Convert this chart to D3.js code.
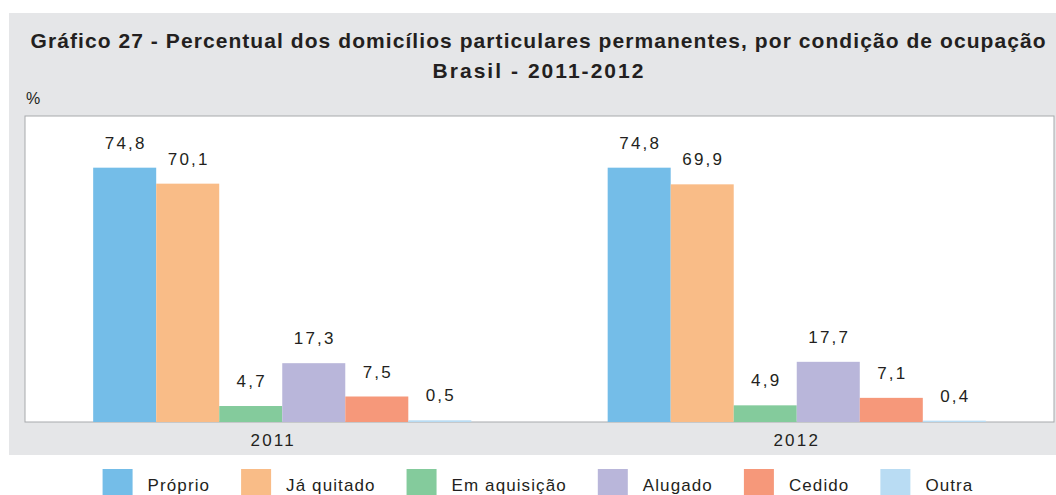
<!DOCTYPE html>
<html>
<head>
<meta charset="utf-8">
<script src="https://cdn.jsdelivr.net/npm/d3@7"></script>
<style>
  body { margin: 0; background: #fff; }
  text { font-family: "Liberation Sans", Arial, Helvetica, sans-serif; fill: #231f20; }
</style>
</head>
<body>
<div id="chart"></div>
<script>
// data
const years = ["2011", "2012"];
const conditions = ["Próprio", "Já quitado", "Em aquisição", "Alugado", "Cedido", "Outra"];
const values2011 = [74.8, 70.1, 4.7, 17.3, 7.5, 0.5];
const values2012 = [74.8, 69.9, 4.9, 17.7, 7.1, 0.4];
const colors = ["#74bde8", "#f9bc87", "#84cb9c", "#b9b6da", "#f6987a", "#b9dcf3"];

const seriesByYear = [values2011, values2012];

const width = 1056, height = 495;
const plot = { left: 25, right: 1054, top: 116, bottom: 422 };

const svg = d3.select("#chart")
  .append("svg")
  .attr("width", width)
  .attr("height", height);

// gray panel
svg.append("rect")
  .attr("x", 9).attr("y", 13)
  .attr("width", width - 9).attr("height", 442)
  .attr("fill", "#e5e6e8");

// title
svg.append("text")
  .attr("x", 538).attr("y", 48)
  .attr("text-anchor", "middle")
  .attr("textLength", 1015)
  .attr("lengthAdjust", "spacing")
  .style("font-size", "21px").style("font-weight", "bold")
  .text("Gráfico 27 - Percentual dos domicílios particulares permanentes, por condição de ocupação");
svg.append("text")
  .attr("x", 538).attr("y", 78)
  .attr("text-anchor", "middle")
  .attr("textLength", 211)
  .attr("lengthAdjust", "spacing")
  .style("font-size", "21px").style("font-weight", "bold")
  .text("Brasil - 2011-2012");

svg.append("text")
  .attr("x", 26).attr("y", 104)
  .style("font-size", "16px")
  .text("%");

// plot area
svg.append("rect")
  .attr("x", plot.left).attr("y", plot.top)
  .attr("width", plot.right - plot.left).attr("height", plot.bottom - plot.top)
  .attr("fill", "#fff")
  .attr("stroke", "#a7a9ac").attr("stroke-width", 1);

const x0 = d3.scaleBand()
  .domain(years)
  .range([plot.left, plot.right])
  .paddingInner(0.265)
  .paddingOuter(0.1325);

const x1 = d3.scaleBand()
  .domain(conditions)
  .range([0, x0.bandwidth()]);

const y = d3.scaleLinear()
  .domain([0, 90])
  .range([plot.bottom, plot.top]);

const color = d3.scaleOrdinal().domain(conditions).range(colors);

const groups = svg.selectAll("g.year")
  .data(years)
  .enter()
  .append("g")
  .attr("class", "year")
  .attr("transform", d => `translate(${x0(d)},0)`);

groups.selectAll("rect")
  .data((d, i) => conditions.map((c, j) => ({ c: c, v: seriesByYear[i][j] })))
  .enter()
  .append("rect")
  .attr("x", d => x1(d.c))
  .attr("y", d => y(d.v))
  .attr("width", x1.bandwidth())
  .attr("height", d => y(0) - y(d.v))
  .attr("fill", d => color(d.c));

groups.selectAll("text.val")
  .data((d, i) => conditions.map((c, j) => ({ c: c, v: seriesByYear[i][j] })))
  .enter()
  .append("text")
  .attr("class", "val")
  .attr("x", d => x1(d.c) + x1.bandwidth() / 2 + 1)
  .attr("y", d => y(d.v) - 19)
  .attr("text-anchor", "middle")
  .style("font-size", "17px")
  .style("letter-spacing", "2.2px")
  .text(d => d3.format(".1f")(d.v).replace(".", ","));

// x axis labels
svg.selectAll("text.cat")
  .data(years)
  .enter()
  .append("text")
  .attr("class", "cat")
  .attr("x", (d, i) => x0(d) + x0.bandwidth() / 2 + (i === 0 ? -9 : 0))
  .attr("y", 446)
  .attr("text-anchor", "middle")
  .style("font-size", "17px")
  .style("letter-spacing", "2.2px")
  .text(d => d);

// legend
const legend = svg.append("g");
const items = legend.selectAll("g")
  .data(conditions)
  .enter()
  .append("g");
items.append("rect")
  .attr("width", 30).attr("height", 26)
  .attr("y", 469)
  .attr("fill", d => color(d));
items.append("text")
  .attr("x", 45).attr("y", 491)
  .style("font-size", "17px")
  .style("letter-spacing", "1.1px")
  .text(d => d);

let cx = 0;
items.each(function() {
  const w = d3.select(this).select("text").node().getComputedTextLength();
  d3.select(this).attr("transform", `translate(${cx},0)`);
  cx += 45 + w + 31;
});
const legendWidth = cx - 31;
legend.attr("transform", `translate(${538 - legendWidth / 2},0)`);
</script>
</body>
</html>
